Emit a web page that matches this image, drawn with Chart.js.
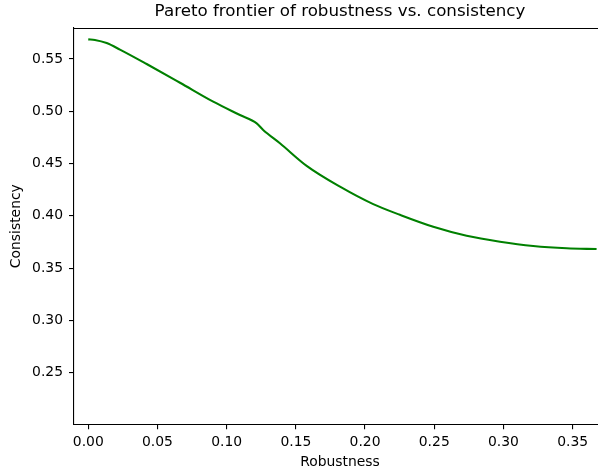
<!DOCTYPE html>
<html>
<head>
<meta charset="utf-8">
<script src="https://cdn.jsdelivr.net/npm/chart.js@4/dist/chart.umd.min.js"></script>
<style>
  html, body { margin: 0; padding: 0; background: #fff; overflow: hidden; }
  #wrap { width: 598px; height: 472px; overflow: hidden; position: relative; }
  canvas { display: block; }
</style>
</head>
<body>
<div id="wrap"><canvas id="c" width="612" height="472"></canvas></div>
<script>
// ---- data ----
const robustness = [0, 0.0048, 0.0133, 0.0229, 0.0422, 0.0663, 0.0903, 0.1096, 0.1217, 0.1264,
  0.1385, 0.1578, 0.1819, 0.2059, 0.2252, 0.2493, 0.2734, 0.2975, 0.3215, 0.3457, 0.3673];
const consistency = [0.5688, 0.5682, 0.5652, 0.5590, 0.5452, 0.5273, 0.5092, 0.4964, 0.4885, 0.4821,
  0.4694, 0.4478, 0.4279, 0.4112, 0.4010, 0.3896, 0.3810, 0.3753, 0.3712, 0.3690, 0.3683];
const xTicks = [0.00, 0.05, 0.10, 0.15, 0.20, 0.25, 0.30, 0.35];
const yTicks = [0.25, 0.30, 0.35, 0.40, 0.45, 0.50, 0.55];
const titleText = 'Pareto frontier of robustness vs. consistency';
const xLabel = 'Robustness';
const yLabel = 'Consistency';

const FONT = 'DejaVu Sans';
const points = robustness.map((x, i) => ({ x: x, y: consistency[i] }));

const frame = {
  id: 'frame',
  afterDraw(chart) {
    const { ctx, chartArea: a } = chart;
    ctx.save();
    ctx.strokeStyle = '#000';
    ctx.lineWidth = 1;
    const t = Math.floor(a.top) + 0.5;
    ctx.beginPath();
    ctx.moveTo(a.left, t);
    ctx.lineTo(a.right, t);
    ctx.lineTo(a.right, a.bottom);
    ctx.stroke();
    ctx.restore();
  }
};

new Chart(document.getElementById('c'), {
  type: 'scatter',
  data: {
    datasets: [{
      data: points,
      showLine: true,
      borderColor: '#008000',
      backgroundColor: '#008000',
      borderWidth: 2.1,
      pointRadius: 0,
      cubicInterpolationMode: 'monotone',
      fill: false
    }]
  },
  options: {
    responsive: false,
    animation: false,
    layout: { padding: { left: 0, right: 6, top: 0, bottom: 0 } },
    plugins: {
      legend: { display: false },
      tooltip: { enabled: false },
      title: {
        display: true,
        text: titleText,
        fullSize: false,
        color: '#000',
        font: { family: FONT, size: 16.7, weight: 'normal' },
        padding: { top: 2, bottom: 6 }
      }
    },
    scales: {
      x: {
        type: 'linear',
        min: -0.0103,
        max: 0.3741,
        afterBuildTicks: s => { s.ticks = xTicks.map(v => ({ value: v })); },
        afterFit: s => { s.height = 472 - 424.3; },
        ticks: {
          color: '#000',
          font: { family: FONT, size: 13.9 },
          padding: 5,
          maxRotation: 0,
          callback: v => Number(v).toFixed(2)
        },
        grid: { drawOnChartArea: false, drawTicks: true, tickLength: 5, color: '#000', lineWidth: 1.1 },
        border: { display: true, color: '#000', width: 1.1 },
        title: {
          display: true,
          text: xLabel,
          color: '#000',
          font: { family: FONT, size: 13.9 },
          padding: { top: 0, bottom: 1 }
        }
      },
      y: {
        type: 'linear',
        min: 0.2007,
        max: 0.5796,
        afterBuildTicks: s => { s.ticks = yTicks.map(v => ({ value: v })); },
        afterFit: s => { s.width = 74; },
        ticks: {
          color: '#000',
          font: { family: FONT, size: 13.9 },
          padding: 6,
          callback: v => Number(v).toFixed(2)
        },
        grid: { drawOnChartArea: false, drawTicks: true, tickLength: 5, color: '#000', lineWidth: 1.1 },
        border: { display: true, color: '#000', width: 1.1 },
        title: {
          display: true,
          text: yLabel,
          color: '#000',
          font: { family: FONT, size: 13.9 },
          padding: { top: 8.3, bottom: 0 }
        }
      }
    }
  },
  plugins: [frame]
});
</script>
</body>
</html>
